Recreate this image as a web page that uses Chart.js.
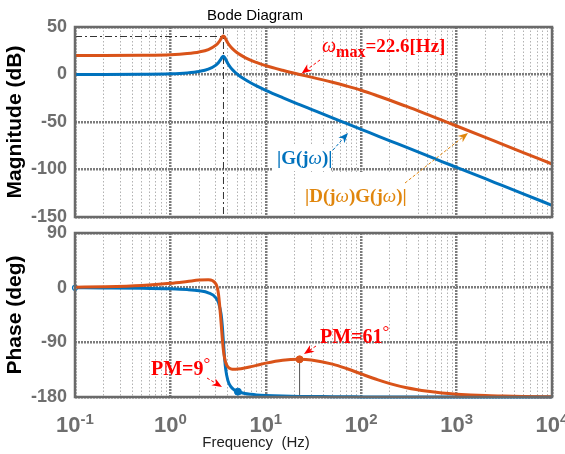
<!DOCTYPE html>
<html>
<head>
<meta charset="utf-8">
<script src="https://cdn.jsdelivr.net/npm/chart.js@4.4.0/dist/chart.umd.min.js"></script>
<style>
  body { margin: 0; background: #fff; }
  #wrap { position: relative; width: 565px; height: 454px; overflow: hidden; }
  canvas { position: absolute; left: 0; }
</style>
</head>
<body>
<div id="wrap">
  <canvas id="mag" width="565" height="225" style="top:0"></canvas>
  <canvas id="phase" width="565" height="234" style="top:220px"></canvas>
</div>
<script>
// frequencies (Hz) the curves were read at
const freq = [0.1, 0.2, 0.5, 1, 1.5, 2, 2.5, 3, 3.2, 3.4, 3.5, 3.6, 3.7, 3.8, 4, 4.3, 4.7, 5.1, 6, 7, 8, 10, 15, 22.6,
  30, 50, 70, 100, 150, 200, 300, 500, 700, 1000, 2000, 3000, 5000, 10000]
// |G(jw)| and |D(jw)G(jw)| in dB
const gMag = [0, 0, 0.2, 0.7, 1.7, 3.2, 5.6, 9.9, 12.7, 16.5, 18.4, 19.2, 18.0, 15.8, 11.6, 7.0, 2.9, -0.2, -5.0, -8.9,
  -11.9, -16.6, -24.3, -31.7, -36.7, -45.7, -51.5, -57.7, -64.8, -69.8, -76.8, -85.7, -91.6, -97.7, -109.7, -116.8, -125.7, -137.7]
const dgMag = [20.0, 20.0, 20.2, 20.8, 22.0, 23.7, 26.3, 30.9, 33.8, 37.8, 39.7, 40.6, 39.5, 37.3, 33.2, 28.9, 25.1, 22.3,
  18.1, 14.9, 12.7, 9.3, 4.4, 0, -2.8, -8.2, -12.1, -16.6, -22.6, -27.1, -33.6, -42.3, -48.1, -54.2, -66.2, -73.3, -82.2, -94.2]
// phase in degrees
const gPhase = [-0.2, -0.4, -0.9, -1.9, -3.2, -5.1, -8.4, -16.7, -25.0, -43.9, -62.9, -90, -116.5, -134.5, -152.5, -162.9,
  -168.5, -171.2, -174.1, -175.6, -176.5, -177.4, -178.4, -179.0, -179.2, -179.5, -179.7, -179.8, -179.9, -179.9, -179.9,
  -180, -180, -180, -180, -180, -180, -180]
const dgPhase = [0.7, 1.5, 3.7, 7.2, 10.2, 12.5, 13.1, 6.0, -12.0, -58.0, -84.0, -104.0, -116.0, -123.5, -130.5, -133.8, -134.5,
  -134.0, -132.2, -130.0, -127.9, -124.2, -119.4, -118.0, -119.1, -125.9, -133.1, -142.0, -151.8, -157.9, -164.8, -170.7,
  -173.4, -175.3, -177.7, -178.4, -179.1, -179.5]

const magTicks = [50, 0, -50, -100, -150]
const phaseTicks = [90, 0, -90, -180]
const decadeTicks = [0.1, 1, 10, 100, 1000, 10000]
const decadeExp = ['-1', '0', '1', '2', '3', '4']

// phase margin points (G crossover, DG crossover)
const pmFreq = [5.1, 22.6]
const pmPhase = [-171.2, -118.0]
const wmaxFreq = 22.6
const resFreq = 3.6
const resPeak = 40

const BLUE = '#0072bd', ORANGE = '#d95319', RED = '#ff0000', AMBER = '#e0860d'
const TICK = '#6e6e6e'
const SANS = '"Liberation Sans", Arial, sans-serif'
const SERIF = '"Liberation Serif", "Times New Roman", serif'

// grid lines: decades plus 2..9 inside each one
const gridFreqs = []
decadeTicks.forEach((d, i) => {
  gridFreqs.push(d)
  if (i < decadeTicks.length - 1) for (let k = 2; k <= 9; k++) gridFreqs.push(+(d * k).toPrecision(3))
})
const isDecade = v => Math.abs(Math.log10(v) - Math.round(Math.log10(v))) < 1e-9

function xScale(h) {
  return {
    type: 'logarithmic', min: 0.1, max: 10000,
    afterBuildTicks: s => { s.ticks = gridFreqs.map(v => ({ value: v, major: isDecade(v) })) },
    afterFit: s => { s.height = h; s.paddingLeft = 0; s.paddingRight = 0 },
    ticks: { display: false, autoSkip: false },
    grid: {
      drawTicks: false,
      color: c => c.tick && isDecade(c.tick.value) ? '#7c7c7c' : '#b2b2b2',
      lineWidth: c => c.tick && isDecade(c.tick.value) ? 2.5 : 1
    },
    border: { display: false, dash: c => c.tick && isDecade(c.tick.value) ? [2, 1] : [1.5, 2] }
  }
}

function yScale(ticks, min, max, title) {
  return {
    min: min, max: max,
    afterBuildTicks: s => { s.ticks = ticks.map(v => ({ value: v })) },
    // fixed axis width, and no extra room for half label heights
    afterFit: s => { s.width = 75; s.paddingTop = 0; s.paddingBottom = 0 },
    ticks: { color: TICK, padding: 8, font: { family: SANS, size: 18, weight: 'bold' }, callback: v => String(v) },
    title: { display: true, text: title, color: '#000', padding: { top: 3 }, font: { family: SANS, size: 21, weight: 'bold' } },
    grid: { drawTicks: false, color: '#7c7c7c', lineWidth: 2.5 },
    border: { display: false, dash: [2, 1] }
  }
}

function line(data, color, extra) {
  return Object.assign({
    data: freq.map((f, i) => ({ x: f, y: data[i] })),
    borderColor: color, borderWidth: 3, pointRadius: 0,
    cubicInterpolationMode: 'monotone', clip: false
  }, extra || {})
}

function runs(ctx, x, y, parts, color) {
  ctx.save()
  ctx.fillStyle = color
  ctx.textAlign = 'left'
  ctx.textBaseline = 'alphabetic'
  parts.forEach(p => {
    ctx.font = p[1]
    ctx.fillText(p[0], x, y + (p[2] || 0))
    x += ctx.measureText(p[0]).width
  })
  ctx.restore()
}

function arrow(ctx, x1, y1, x2, y2, color) {
  const a = Math.atan2(y2 - y1, x2 - x1)
  ctx.save()
  ctx.strokeStyle = color
  ctx.fillStyle = color
  ctx.lineWidth = 1
  ctx.setLineDash([3, 2])
  ctx.beginPath()
  ctx.moveTo(x1, y1)
  ctx.lineTo(x2 - 6 * Math.cos(a), y2 - 6 * Math.sin(a))
  ctx.stroke()
  ctx.setLineDash([])
  ctx.beginPath()
  ctx.moveTo(x2, y2)
  ctx.lineTo(x2 - 10 * Math.cos(a) + 4 * Math.sin(a), y2 - 10 * Math.sin(a) - 4 * Math.cos(a))
  ctx.lineTo(x2 - 7 * Math.cos(a), y2 - 7 * Math.sin(a))
  ctx.lineTo(x2 - 10 * Math.cos(a) - 4 * Math.sin(a), y2 - 10 * Math.sin(a) + 4 * Math.cos(a))
  ctx.closePath()
  ctx.fill()
  ctx.restore()
}

const frame = {
  id: 'frame',
  afterDatasetsDraw(chart) {
    const { ctx, chartArea: a } = chart
    ctx.save()
    ctx.strokeStyle = '#6a6a6a'
    ctx.lineWidth = 2.5
    ctx.strokeRect(a.left, a.top, a.right - a.left, a.bottom - a.top)
    ctx.restore()
  }
}

const magNotes = {
  id: 'magNotes',
  beforeDatasetsDraw(chart) {
    const { ctx, scales: { x, y } } = chart
    ctx.save()
    ctx.fillStyle = '#fff'
    ctx.fillRect(273, 144, 58, 27)
    ctx.fillRect(301, 172, 108, 44)
    ctx.strokeStyle = '#333'
    ctx.lineWidth = 1
    ctx.setLineDash([7, 3, 2, 3])
    ctx.beginPath()
    ctx.moveTo(x.getPixelForValue(resFreq), y.getPixelForValue(50))
    ctx.lineTo(x.getPixelForValue(resFreq), y.getPixelForValue(-150))
    ctx.moveTo(x.getPixelForValue(0.1), y.getPixelForValue(resPeak))
    ctx.lineTo(x.getPixelForValue(resFreq), y.getPixelForValue(resPeak))
    ctx.stroke()
    ctx.restore()
  },
  afterDraw(chart) {
    const { ctx, scales: { x, y } } = chart
    ctx.save()
    ctx.fillStyle = '#000'
    ctx.font = '15px ' + SANS
    ctx.textAlign = 'center'
    ctx.fillText('Bode Diagram', 255, 19.5)
    ctx.restore()

    runs(ctx, 322, 52, [['ω', 'italic 20px ' + SERIF], ['max', 'bold 16px ' + SERIF, 5], ['=22.6[Hz]', 'bold 19px ' + SERIF]], RED)
    arrow(ctx, 320, 60, x.getPixelForValue(wmaxFreq) + 2, y.getPixelForValue(0) - 1, RED)

    runs(ctx, 277, 164, [['|G(j', 'bold 19px ' + SERIF], ['ω', 'italic 19px ' + SERIF], [')|', 'bold 19px ' + SERIF]], BLUE)
    arrow(ctx, 333, 150, 348, 133, BLUE)

    runs(ctx, 305, 202, [['|D(j', 'bold 19px ' + SERIF], ['ω', 'italic 19px ' + SERIF], [')G(j', 'bold 19px ' + SERIF],
      ['ω', 'italic 19px ' + SERIF], [')|', 'bold 19px ' + SERIF]], AMBER)
    arrow(ctx, 405, 183, 468, 133, AMBER)
  }
}

const phaseNotes = {
  id: 'phaseNotes',
  beforeDatasetsDraw(chart) {
    const { ctx, scales: { x, y } } = chart
    ctx.save()
    ctx.strokeStyle = '#555'
    ctx.lineWidth = 1
    ctx.beginPath()
    ctx.moveTo(x.getPixelForValue(pmFreq[1]), y.getPixelForValue(pmPhase[1]))
    ctx.lineTo(x.getPixelForValue(pmFreq[1]), y.getPixelForValue(-180))
    ctx.stroke()
    ctx.restore()
  },
  afterDraw(chart) {
    const { ctx, scales: { x } } = chart
    ctx.save()
    ctx.fillStyle = TICK
    ctx.textAlign = 'left'
    decadeTicks.forEach((v, i) => {
      const px = x.getPixelForValue(v)
      ctx.font = 'bold 22px ' + SANS
      const w1 = ctx.measureText('10').width
      ctx.font = 'bold 15px ' + SANS
      const w2 = ctx.measureText(decadeExp[i]).width
      const x0 = px - (w1 + w2) / 2
      ctx.font = 'bold 22px ' + SANS
      ctx.fillText('10', x0, 212)
      ctx.font = 'bold 15px ' + SANS
      ctx.fillText(decadeExp[i], x0 + w1, 204)
    })
    ctx.fillStyle = '#222'
    ctx.font = '15px ' + SANS
    ctx.textAlign = 'center'
    ctx.fillText('Frequency  (Hz)', 256, 227)
    ctx.restore()

    runs(ctx, 151, 155, [['PM=9', 'bold 20px ' + SERIF], ['°', '17px ' + SERIF, -6]], RED)
    arrow(ctx, 207, 158, 222, 167, RED)
    runs(ctx, 320, 123, [['PM=61', 'bold 20px ' + SERIF], ['°', '17px ' + SERIF, -6]], RED)
    arrow(ctx, 316, 126, 304, 134, RED)
  }
}

new Chart(document.getElementById('mag'), {
  type: 'line',
  data: { datasets: [line(dgMag, ORANGE), line(gMag, BLUE)] },
  options: {
    responsive: false, animation: false,
    layout: { padding: { left: 0, right: 13, top: 27, bottom: 0 } },
    plugins: { legend: { display: false }, tooltip: { enabled: false } },
    scales: { x: xScale(8), y: yScale(magTicks, -150, 50, 'Magnitude (dB)') }
  },
  plugins: [magNotes, frame]
})

new Chart(document.getElementById('phase'), {
  type: 'line',
  data: {
    datasets: [
      {
        data: pmFreq.map((f, i) => ({ x: f, y: pmPhase[i] })),
        showLine: false, pointRadius: 3.5, clip: false,
        pointBackgroundColor: [BLUE, ORANGE], pointBorderColor: [BLUE, ORANGE]
      },
      line(dgPhase, ORANGE),
      line(gPhase, BLUE, {
        pointRadius: c => c.dataIndex === 0 ? 2.5 : 0,
        pointBackgroundColor: '#fff', pointBorderColor: BLUE, pointBorderWidth: 1.2
      })
    ]
  },
  options: {
    responsive: false, animation: false,
    layout: { padding: { left: 0, right: 13, top: 13, bottom: 0 } },
    plugins: { legend: { display: false }, tooltip: { enabled: false } },
    scales: { x: xScale(57), y: yScale(phaseTicks, -180, 90, 'Phase (deg)') }
  },
  plugins: [phaseNotes, frame]
})
</script>
</body>
</html>
